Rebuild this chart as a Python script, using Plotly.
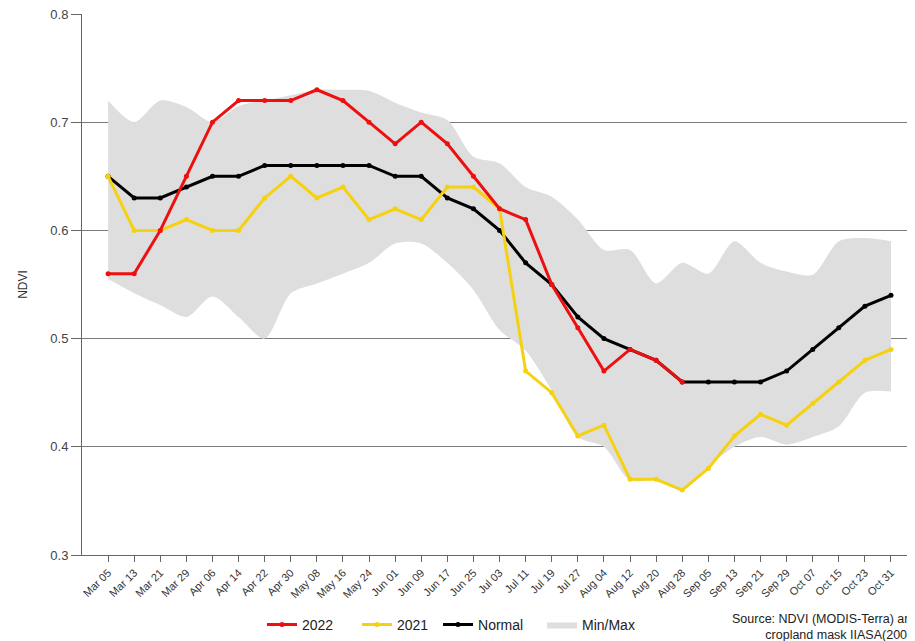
import plotly.graph_objects as go

dates = ["Mar 05", "Mar 13", "Mar 21", "Mar 29", "Apr 06", "Apr 14", "Apr 22", "Apr 30",
         "May 08", "May 16", "May 24", "Jun 01", "Jun 09", "Jun 17", "Jun 25", "Jul 03",
         "Jul 11", "Jul 19", "Jul 27", "Aug 04", "Aug 12", "Aug 20", "Aug 28", "Sep 05",
         "Sep 13", "Sep 21", "Sep 29", "Oct 07", "Oct 15", "Oct 23", "Oct 31"]

ndvi_2022 = [0.56, 0.56, 0.60, 0.65, 0.70, 0.72, 0.72, 0.72, 0.73, 0.72, 0.70, 0.68,
             0.70, 0.68, 0.65, 0.62, 0.61, 0.55, 0.51, 0.47, 0.49, 0.48, 0.46]

ndvi_2021 = [0.65, 0.60, 0.60, 0.61, 0.60, 0.60, 0.63, 0.65, 0.63, 0.64, 0.61, 0.62,
             0.61, 0.64, 0.64, 0.62, 0.47, 0.45, 0.41, 0.42, 0.37, 0.37, 0.36, 0.38,
             0.41, 0.43, 0.42, 0.44, 0.46, 0.48, 0.49]

ndvi_normal = [0.65, 0.63, 0.63, 0.64, 0.65, 0.65, 0.66, 0.66, 0.66, 0.66, 0.66, 0.65,
               0.65, 0.63, 0.62, 0.60, 0.57, 0.55, 0.52, 0.50, 0.49, 0.48, 0.46, 0.46,
               0.46, 0.46, 0.47, 0.49, 0.51, 0.53, 0.54]

ndvi_max = [0.72, 0.70, 0.72, 0.714, 0.70, 0.715, 0.72, 0.725, 0.73, 0.73, 0.729, 0.718,
            0.709, 0.702, 0.668, 0.662, 0.640, 0.631, 0.610, 0.582, 0.582, 0.551, 0.570, 0.560,
            0.590, 0.570, 0.562, 0.559, 0.590, 0.593, 0.590]

ndvi_min = [0.555, 0.542, 0.531, 0.520, 0.539, 0.520, 0.500, 0.542, 0.551, 0.560, 0.570, 0.588,
            0.588, 0.570, 0.545, 0.508, 0.489, 0.452, 0.409, 0.400, 0.369, 0.369, 0.360, 0.382,
            0.400, 0.409, 0.402, 0.409, 0.419, 0.450, 0.451]

y_ticks = [0.3, 0.4, 0.5, 0.6, 0.7, 0.8]

FONT = "Liberation Sans, Arial, sans-serif"

fig = go.Figure()

fig.add_trace(go.Scatter(x=dates, y=ndvi_min, mode="lines", line=dict(width=0, shape="spline", smoothing=0.8),
                         showlegend=False, hoverinfo="skip"))
fig.add_trace(go.Scatter(x=dates, y=ndvi_max, mode="lines", line=dict(width=0, shape="spline", smoothing=0.8),
                         fill="tonexty", fillcolor="#dedede", name="Min/Max", legend="legend4"))
fig.add_trace(go.Scatter(x=dates, y=ndvi_normal, mode="lines+markers", name="Normal",
                         line=dict(color="#000000", width=3), marker=dict(size=5, color="#000000"),
                         legend="legend3"))
fig.add_trace(go.Scatter(x=dates, y=ndvi_2021, mode="lines+markers", name="2021",
                         line=dict(color="#f5d10f", width=3), marker=dict(size=5, color="#f5d10f"),
                         legend="legend2"))
fig.add_trace(go.Scatter(x=dates[:len(ndvi_2022)], y=ndvi_2022, mode="lines+markers", name="2022",
                         line=dict(color="#ee1010", width=3), marker=dict(size=5, color="#ee1010"),
                         legend="legend"))


def leg(xpos):
    return dict(orientation="h", x=xpos, xanchor="left", y=-0.129, yanchor="middle",
                font=dict(size=14, color="#222222"), itemwidth=30, bgcolor="rgba(0,0,0,0)")


fig.update_layout(
    width=907, height=633,
    margin=dict(l=74, r=0, t=6, b=86, autoexpand=False),
    paper_bgcolor="white", plot_bgcolor="white",
    font=dict(family=FONT, size=12, color="#333333"),
    showlegend=True,
    legend=leg(0.2161), legend2=leg(0.3301), legend3=leg(0.4274), legend4=leg(0.5522),
    xaxis=dict(type="category", range=[-1, 30.92], showgrid=False, showline=True,
               linecolor="#666666", linewidth=1, ticks="outside", ticklen=6, tickcolor="#666666",
               tickangle=-45, tickfont=dict(size=11, color="#333333"), zeroline=False),
    yaxis=dict(range=[0.3, 0.8], tickvals=y_ticks, tickformat=".1f", showgrid=True,
               gridcolor="#7a7a7a", gridwidth=1, showline=True, linecolor="#666666", linewidth=1,
               ticks="outside", ticklen=10, tickcolor="#666666", zeroline=False,
               ticklabeloverflow="allow",
               tickfont=dict(size=13, color="#444444"),
               title=dict(text="NDVI", font=dict(size=12, color="#333333"), standoff=20)),
    annotations=[dict(text="Source: NDVI (MODIS-Terra) and<br>cropland mask IIASA(2005)",
                      xref="paper", yref="paper", x=1.006, y=-0.133, xanchor="right", yanchor="middle",
                      align="right", showarrow=False, font=dict(size=12.5, color="#222222"))],
)

fig.write_html("out.html")
